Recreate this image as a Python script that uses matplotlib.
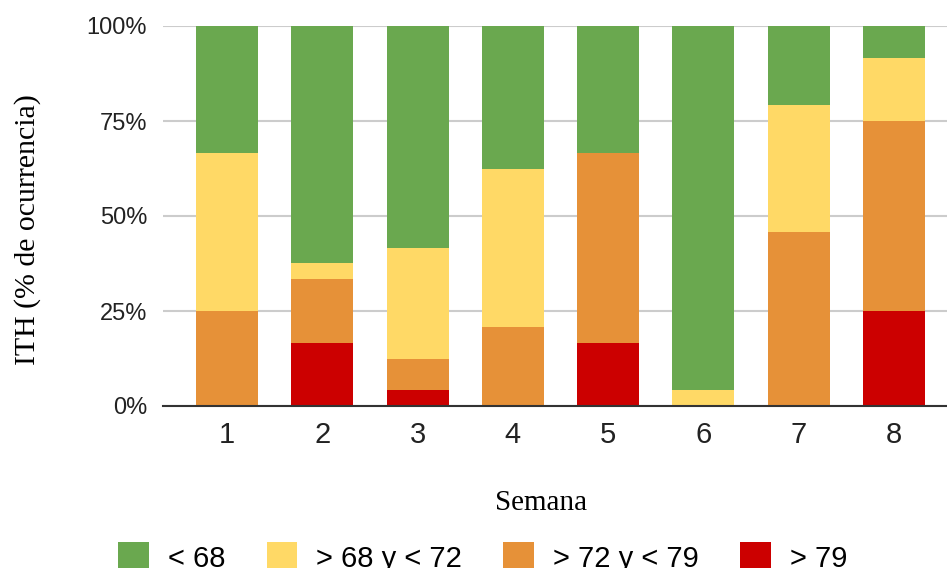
import matplotlib
matplotlib.use("Agg")
import matplotlib.pyplot as plt
from matplotlib.patches import Patch
import numpy as np

# share of weeks per ITH class (% of occurrence), week 1..8
semanas = [1, 2, 3, 4, 5, 6, 7, 8]
mayor_79 = [0, 16.67, 4.17, 0, 16.67, 0, 0, 25.0]
entre_72_79 = [25.0, 16.67, 8.33, 20.83, 50.0, 0, 45.83, 50.0]
entre_68_72 = [41.67, 4.17, 29.17, 41.67, 0, 4.17, 33.33, 16.67]
menor_68 = [33.33, 62.5, 58.33, 37.5, 33.33, 95.83, 20.83, 8.33]

etiquetas = ["< 68", "> 68 y < 72", "> 72 y < 79", "> 79"]
colores = ["#6aa84f", "#ffd966", "#e69138", "#cc0000"]
yticks = [0, 25, 50, 75, 100]

W, H = 947, 568
fig = plt.figure(figsize=(W / 100, H / 100), dpi=100)
ax = fig.add_axes([163 / W, 1 - 406 / H, (947 - 163) / W, (406 - 26) / H])

x = np.array(semanas)
ancho = 0.65
base = np.zeros(len(semanas))
# draw from the bottom of the stack upwards
for serie, color in [(mayor_79, colores[3]), (entre_72_79, colores[2]),
                     (entre_68_72, colores[1]), (menor_68, colores[0])]:
    vals = np.array(serie)
    ax.bar(x, vals, ancho, bottom=base, color=color, zorder=2, linewidth=0)
    base += vals

ax.set_xlim(0.328, 8.556)
ax.set_ylim(0, 100)
ax.set_yticks(yticks)
ax.set_yticklabels([f"{v}%" for v in yticks], family="Liberation Sans", fontsize=17)
ax.set_xticks(semanas)
ax.set_xticklabels([str(s) for s in semanas], family="Liberation Sans", fontsize=21)
ax.tick_params(axis="y", length=0, pad=11.5, colors="#222222")
ax.tick_params(axis="x", length=0, pad=11, colors="#222222")
ax.grid(axis="y", color="#cccccc", linewidth=1.5, zorder=0)
for s in ["top", "right", "left"]:
    ax.spines[s].set_visible(False)
ax.spines["bottom"].set_color("#333333")
ax.spines["bottom"].set_linewidth(1.5)
ax.spines["bottom"].set_zorder(3)

fig.text(28 / W, 1 - 230 / H, "ITH (% de ocurrencia)", rotation=90,
         ha="center", va="center", family="Liberation Serif", fontsize=21.5)
fig.text(541 / W, 1 - 503 / H, "Semana", ha="center", va="center",
         family="Liberation Serif", fontsize=21)

handles = [Patch(facecolor=c, edgecolor="none") for c in colores]
fig.legend(handles, etiquetas, loc="upper left", bbox_to_anchor=(118 / W, 1 - 542 / H),
           ncol=4, frameon=False, borderpad=0, borderaxespad=0,
           handlelength=1.05, handleheight=1.2, handletextpad=0.66,
           columnspacing=1.41, prop={"family": "Liberation Sans", "size": 21})

fig.savefig("out.png", dpi=100)
